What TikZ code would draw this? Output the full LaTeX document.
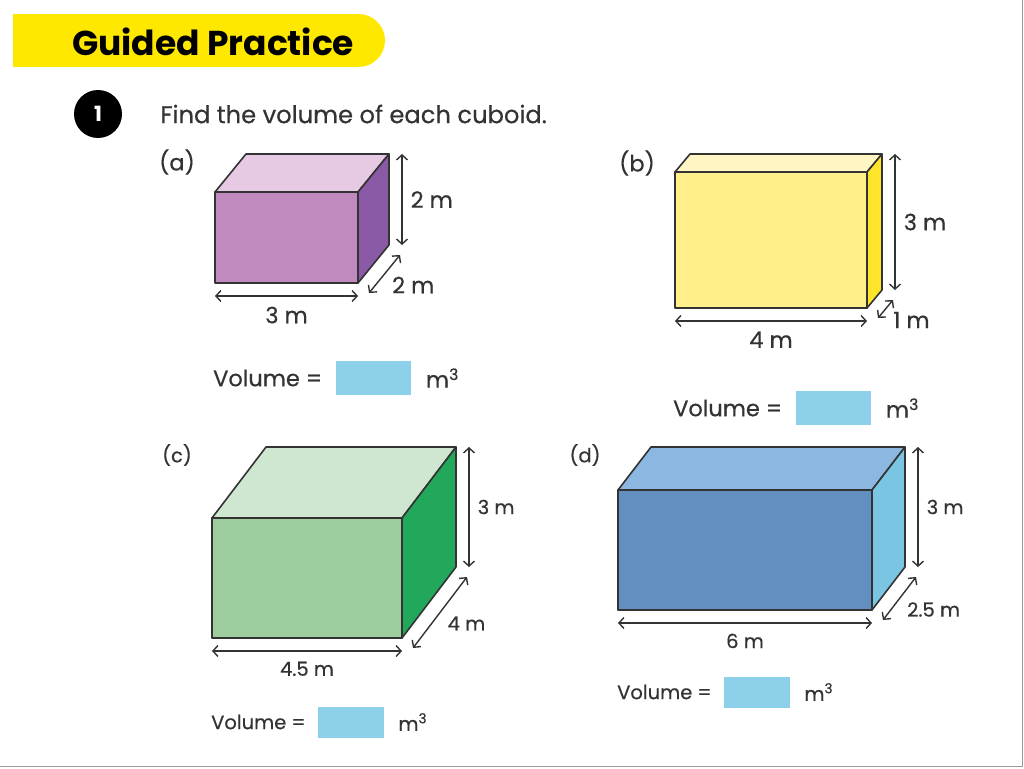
\documentclass[tikz,border=0pt]{standalone}
\usepackage{fontspec}
\setmainfont{Poppins}
\newfontfamily\labelfont{Poppins}[FakeBold=0.5]
\usetikzlibrary{positioning,arrows.meta}
\tikzset {>={Straight Barb[length=5pt,width=11pt]}}

\definecolor{edgegrey}{HTML}{333333}
\definecolor{framegrey}{HTML}{9A9A9A}
\definecolor{bannerfill}{HTML}{FFE800}
\definecolor{answerblue}{HTML}{8CD0EA}
\definecolor{pinkfront}{HTML}{C08ABE}
\definecolor{pinktop}{HTML}{E6CAE4}
\definecolor{pinkside}{HTML}{8A5AA6}
\definecolor{yellowfront}{HTML}{FFF08C}
\definecolor{yellowtop}{HTML}{FFF6C4}
\definecolor{yellowside}{HTML}{FFE52A}
\definecolor{greenfront}{HTML}{9DCC9F}
\definecolor{greentop}{HTML}{CFE6D1}
\definecolor{greenside}{HTML}{22A85A}
\definecolor{bluefront}{HTML}{628FC0}
\definecolor{bluetop}{HTML}{8CB7E1}
\definecolor{blueside}{HTML}{7AC5E1}

% prefix, front top left, width, height, depth x, depth y, colours
\newcommand\cuboid[9]{%
  \path #2 coordinate (#1A) ++(#3,0) coordinate (#1B)
    ++(0,#4) coordinate (#1C) ++(-#3,0) coordinate (#1D);
  \path (#1A) ++(#5,#6) coordinate (#1E) ++(#3,0) coordinate (#1F)
    ++(0,#4) coordinate (#1G);
  \filldraw[edge, fill=#7] (#1A) rectangle (#1C);
  \filldraw[edge, fill=#8] (#1A) -- (#1E) -- (#1F) -- (#1B) -- cycle;
  \filldraw[edge, fill=#9] (#1B) -- (#1F) -- (#1G) -- (#1C) -- cycle;
}
% prefix, height, width, depth, label style
\newcommand\measure[5]{%
  \draw[dim] ([xshift=13pt]#1F) -- ([xshift=13pt]#1G)
    node[#5, midway, right=8pt] (#1h) {#2};
  \draw[dim] ([yshift=-13pt]#1D) -- ([yshift=-13pt]#1C)
    node[#5, midway, below=10pt] (#1w) {#3};
  \draw[dim] ([shift={(11pt,-10pt)}]#1C) -- ([shift={(11pt,-10pt)}]#1G)
    node[#5, midway, anchor=west, xshift=7pt, yshift=-11pt] (#1d) {#4};
}

\begin{document}
\begin{tikzpicture}[x=1pt, y=-1pt,
  edge/.style={draw=edgegrey, line width=1.6pt, line join=round},
  dim/.style={<->, draw=edgegrey, line width=1.4pt},
  lab/.style={font=\labelfont\fontsize{22.5}{25}\selectfont, text=edgegrey, inner sep=0pt},
  smalllab/.style={lab, font=\labelfont\fontsize{19.5}{22}\selectfont},
  answer/.style={fill=answerblue, inner sep=0pt},
  bigbox/.style={answer, minimum width=75pt, minimum height=34pt},
  smallbox/.style={answer, minimum width=66pt, minimum height=31pt}]
\useasboundingbox (0,0) rectangle (1024,768);
\draw[framegrey, line width=1.5pt] (0,766.5) -- (1022.5,766.5) -- (1022.5,0);

\fill[bannerfill] (13,14) rectangle (360,67);
\fill[bannerfill] (358.5,40.5) circle[radius=26.5pt];
\node[font=\bfseries\fontsize{34.5}{39}\selectfont, anchor=west, inner sep=0pt]
  (title) at (72,42) {Guided Practice};
\node[circle, fill=black, minimum size=48pt, inner sep=0pt, text=white,
  font=\bfseries\fontsize{21}{24}\selectfont] (num) at (98,114) {1};
\node[lab, font=\labelfont\fontsize{24.2}{27}\selectfont, anchor=west, right=38pt of num]
  (task) {Find the volume of each cuboid.};

\cuboid{a}{(215,192)}{143}{91}{31}{-38}{pinkfront}{pinktop}{pinkside}
\measure{a}{2 m}{3 m}{2 m}{lab}
\node[lab] (la) at (177,162) {(a)};
\node[lab, anchor=west] (va) at (213,378) {Volume =};
\node[bigbox, right=13pt of va] (vabox) {};
\node[lab, right=15pt of vabox] (vaunit) {m\textsuperscript{3}};

\cuboid{b}{(675,172)}{192}{136}{15}{-18}{yellowfront}{yellowtop}{yellowside}
\measure{b}{3 m}{4 m}{1 m}{lab}
\node[lab] (lb) at (637,163) {(b)};
\node[lab, anchor=west] (vb) at (673,408) {Volume =};
\node[bigbox, right=13pt of vb] (vbbox) {};
\node[lab, right=15pt of vbbox] (vbunit) {m\textsuperscript{3}};

\cuboid{c}{(212,518)}{190}{120}{54}{-71}{greenfront}{greentop}{greenside}
\measure{c}{3 m}{4.5 m}{4 m}{smalllab}
\node[smalllab] (lc) at (177,455) {(c)};
\node[smalllab, anchor=west] (vc) at (211,722) {Volume =};
\node[smallbox, right=12pt of vc] (vcbox) {};
\node[smalllab, right=14pt of vcbox] (vcunit) {m\textsuperscript{3}};

\cuboid{d}{(618,490)}{254}{120}{33}{-43}{bluefront}{bluetop}{blueside}
\measure{d}{3 m}{6 m}{2.5 m}{smalllab}
\node[smalllab] (ld) at (585,455) {(d)};
\node[smalllab, anchor=west] (vd) at (617,692) {Volume =};
\node[smallbox, right=12pt of vd] (vdbox) {};
\node[smalllab, right=14pt of vdbox] (vdunit) {m\textsuperscript{3}};
\end{tikzpicture}
\end{document}
